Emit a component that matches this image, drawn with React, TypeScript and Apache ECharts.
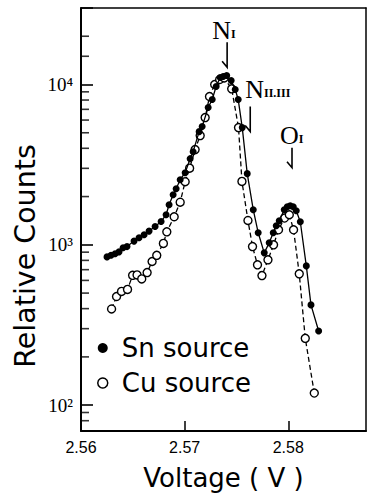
import React, { useEffect, useRef } from "react";
import * as echarts from "echarts";

// Sn source measurements (voltage in V, relative counts)
const snVoltage = [
  2.56251, 2.5629, 2.56329, 2.56367, 2.56406, 2.56444, 2.56512, 2.5656, 2.56609,
  2.56657, 2.56715, 2.56773, 2.56821, 2.5685, 2.56889, 2.56918, 2.56957, 2.57005,
  2.57053, 2.57082, 2.5714, 2.57169, 2.57227, 2.57266, 2.57304, 2.57343, 2.57372,
  2.57406, 2.57449, 2.57488, 2.57517, 2.57556, 2.57604, 2.57662, 2.5771, 2.57768,
  2.57816, 2.57855, 2.57884, 2.57913, 2.57961, 2.5799, 2.58019, 2.58048, 2.58077,
  2.58116, 2.58174, 2.58219, 2.58293,
];
const snCounts = [
  841, 860, 879, 904, 958, 975, 1055, 1106, 1155,
  1218, 1301, 1399, 1540, 1778, 2054, 2239, 2548, 2818,
  3447, 3811, 5082, 5465, 7178, 8058, 9716, 11060, 11220,
  11380, 10590, 9306, 8058, 5383, 2780, 1656, 1189, 891,
  1029, 1189, 1315, 1413, 1656, 1728, 1754, 1728, 1632,
  1393, 739, 422, 290,
];

// Cu source measurements
const cuVoltage = [
  2.56295, 2.56343, 2.56391, 2.56449, 2.56498, 2.56541, 2.56586, 2.56638, 2.56686,
  2.56731, 2.56795, 2.56828, 2.56899, 2.56957, 2.57005, 2.57048, 2.57101, 2.5715,
  2.57198, 2.5724, 2.5729, 2.57338, 2.57382, 2.57454, 2.5752, 2.57553, 2.57611,
  2.57655, 2.57703, 2.57746, 2.57804, 2.57858, 2.57906, 2.57964, 2.5801, 2.58051,
  2.58106, 2.58164, 2.58251,
];
const cuCounts = [
  398, 476, 512, 527, 645, 649, 613, 671, 787,
  860, 1021, 1205, 1496, 1844, 2475, 3006, 3926, 4801,
  6218, 8414, 10000, 10740, 10980, 9398, 5383, 2487, 1419,
  975, 750, 643, 806, 1000, 1241, 1469, 1540, 1241,
  659, 261, 119,
];

const xLabels = ["2.56", "2.57", "2.58"];
const yDecadeLabels: Record<number, string> = { 2: "10²", 3: "10³", 4: "10⁴" };
const yMinorTicks = [
  80, 90,
  200, 300, 400, 500, 600, 700, 800, 900,
  2000, 3000, 4000, 5000, 6000, 7000, 8000, 9000,
  15000, 20000,
];

// Peak labels: main letter, subscript, arrow-tip voltage and counts
const peakNames = ["N", "N", "O"];
const peakSubs = ["I", "II.III", "I"];
const peakVoltage = [2.5741, 2.57633, 2.58036];
const peakCounts = [12800, 5085, 3030];

const X_MIN = 2.56;
const X_MAX = 2.5875;
const Y_MIN = 69;
const Y_MAX = 30000;

const SERIF = "'Liberation Serif', 'DejaVu Serif', serif";
const SANS = "'DejaVu Sans', sans-serif";

export default function App() {
  const ref = useRef<HTMLDivElement>(null);

  useEffect(() => {
    if (!ref.current) return;
    const chart = echarts.init(ref.current, undefined, { renderer: "svg" });

    const snData = snVoltage.map((v, i) => [v, snCounts[i]]);
    const cuData = cuVoltage.map((v, i) => [v, cuCounts[i]]);

    const decadeLabel = (v: number) => {
      const l = Math.log10(v);
      const r = Math.round(l);
      return Math.abs(l - r) < 1e-6 ? yDecadeLabels[r] || "" : "";
    };

    // plain frame line used for the top and right edges
    const frameAxis = {
      axisLine: { show: true, lineStyle: { color: "#000", width: 1.5 } },
      axisTick: { show: false },
      axisLabel: { show: false },
      splitLine: { show: false },
    };

    chart.setOption({
      animation: false,
      grid: { left: 81, top: 8, width: 285, height: 423 },
      legend: {
        orient: "vertical",
        left: 92,
        top: 330,
        itemWidth: 28,
        itemHeight: 10,
        itemGap: 9,
        selectedMode: false,
        textStyle: { fontFamily: SANS, fontSize: 26, color: "#000" },
        data: [
          { name: "Sn source", icon: "circle", itemStyle: { color: "#000", borderWidth: 0 } },
          {
            name: "Cu source",
            icon: "circle",
            itemStyle: { color: "#fff", borderColor: "#000", borderWidth: 1.5 },
          },
        ],
      },
      xAxis: [
        {
          type: "value",
          min: X_MIN,
          max: X_MAX,
          interval: 0.01,
          name: "Voltage ( V )",
          nameLocation: "middle",
          nameGap: 34,
          nameTextStyle: { fontFamily: SANS, fontSize: 26, color: "#000" },
          axisLine: { show: true, lineStyle: { color: "#000", width: 2 } },
          axisTick: { show: true, inside: true, length: 10, lineStyle: { color: "#000", width: 1.5 } },
          splitLine: { show: false },
          axisLabel: {
            margin: 8,
            fontFamily: "'Liberation Sans', sans-serif",
            fontSize: 16,
            color: "#000",
            showMaxLabel: false,
            formatter: (v: number) => {
              const idx = Math.round((v - X_MIN) / 0.01);
              return Math.abs(v - (X_MIN + idx * 0.01)) < 1e-6 && idx < xLabels.length ? xLabels[idx] : "";
            },
          },
        },
        { type: "value", position: "top", min: X_MIN, max: X_MAX, ...frameAxis },
      ],
      yAxis: [
        {
          type: "log",
          logBase: 10,
          min: Y_MIN,
          max: Y_MAX,
          axisLine: { show: true, lineStyle: { color: "#000", width: 2 } },
          // decade ticks
          axisTick: { show: true, inside: true, length: 12, lineStyle: { color: "#000", width: 1.6 } },
          splitLine: { show: false },
          axisLabel: {
            margin: 8,
            fontFamily: SERIF,
            fontSize: 19,
            color: "#000",
            formatter: decadeLabel,
          },
        },
        { type: "log", position: "right", min: Y_MIN, max: Y_MAX, ...frameAxis },
      ],
      series: [
        {
          name: "Cu source",
          type: "line",
          data: cuData,
          symbol: "circle",
          symbolSize: 8,
          itemStyle: { color: "#fff", borderColor: "#000", borderWidth: 1.4 },
          lineStyle: { color: "#000", width: 1.3, type: [5, 3] },
          z: 3,
        },
        {
          name: "Sn source",
          type: "line",
          data: snData,
          symbol: "circle",
          symbolSize: 7,
          itemStyle: { color: "#000", borderWidth: 0 },
          lineStyle: { color: "#000", width: 1.3 },
          z: 4,
        },
        {
          // intermediate logarithmic ticks, drawn as short bars resting on the axis
          name: "minor ticks",
          type: "scatter",
          clip: false,
          symbol: "rect",
          symbolSize: [8, 1.6],
          symbolOffset: [4, 0],
          itemStyle: { color: "#000" },
          data: yMinorTicks.map((c) => [X_MIN, c]),
          z: 5,
        },
      ],
    });

    const graphics: any[] = [
      {
        type: "text",
        x: 25,
        y: 256,
        rotation: Math.PI / 2,
        style: {
          text: "Relative Counts",
          fontFamily: SANS,
          fontSize: 28.5,
          fill: "#000",
          align: "center",
          verticalAlign: "middle",
        },
      },
    ];

    // Peak annotations with hooked arrows, anchored to data coordinates
    peakNames.forEach((n, i) => {
      const [x, y] = chart.convertToPixel({ gridIndex: 0 }, [peakVoltage[i], peakCounts[i]]) as number[];
      const arrowLen = i === 2 ? 20 : 25;
      graphics.push({
        type: "polyline",
        shape: { points: [[x, y - arrowLen], [x, y], [x - 5, y - 6]] },
        style: { stroke: "#000", lineWidth: 1.6, fill: null },
      });
      const dx = i === 0 ? -15 : i === 1 ? -5 : -12;
      const dy = i === 0 ? -37 : i === 1 ? -42 : -32;
      graphics.push({
        type: "text",
        x: x + dx,
        y: y + dy,
        style: {
          text: `{n|${n}}{s|${peakSubs[i]}}`,
          align: "left",
          verticalAlign: "middle",
          rich: {
            n: { fontFamily: SERIF, fontSize: 26, fill: "#000" },
            s: { fontFamily: SERIF, fontSize: 12, fontWeight: "bold", fill: "#000", padding: [7, 0, 0, 0] },
          },
        },
      });
    });
    chart.setOption({ graphic: graphics });

    return () => chart.dispose();
  }, []);

  return (
    <div
      ref={ref}
      style={{ position: "absolute", left: 0, top: 0, width: 367, height: 496 }}
    />
  );
}
